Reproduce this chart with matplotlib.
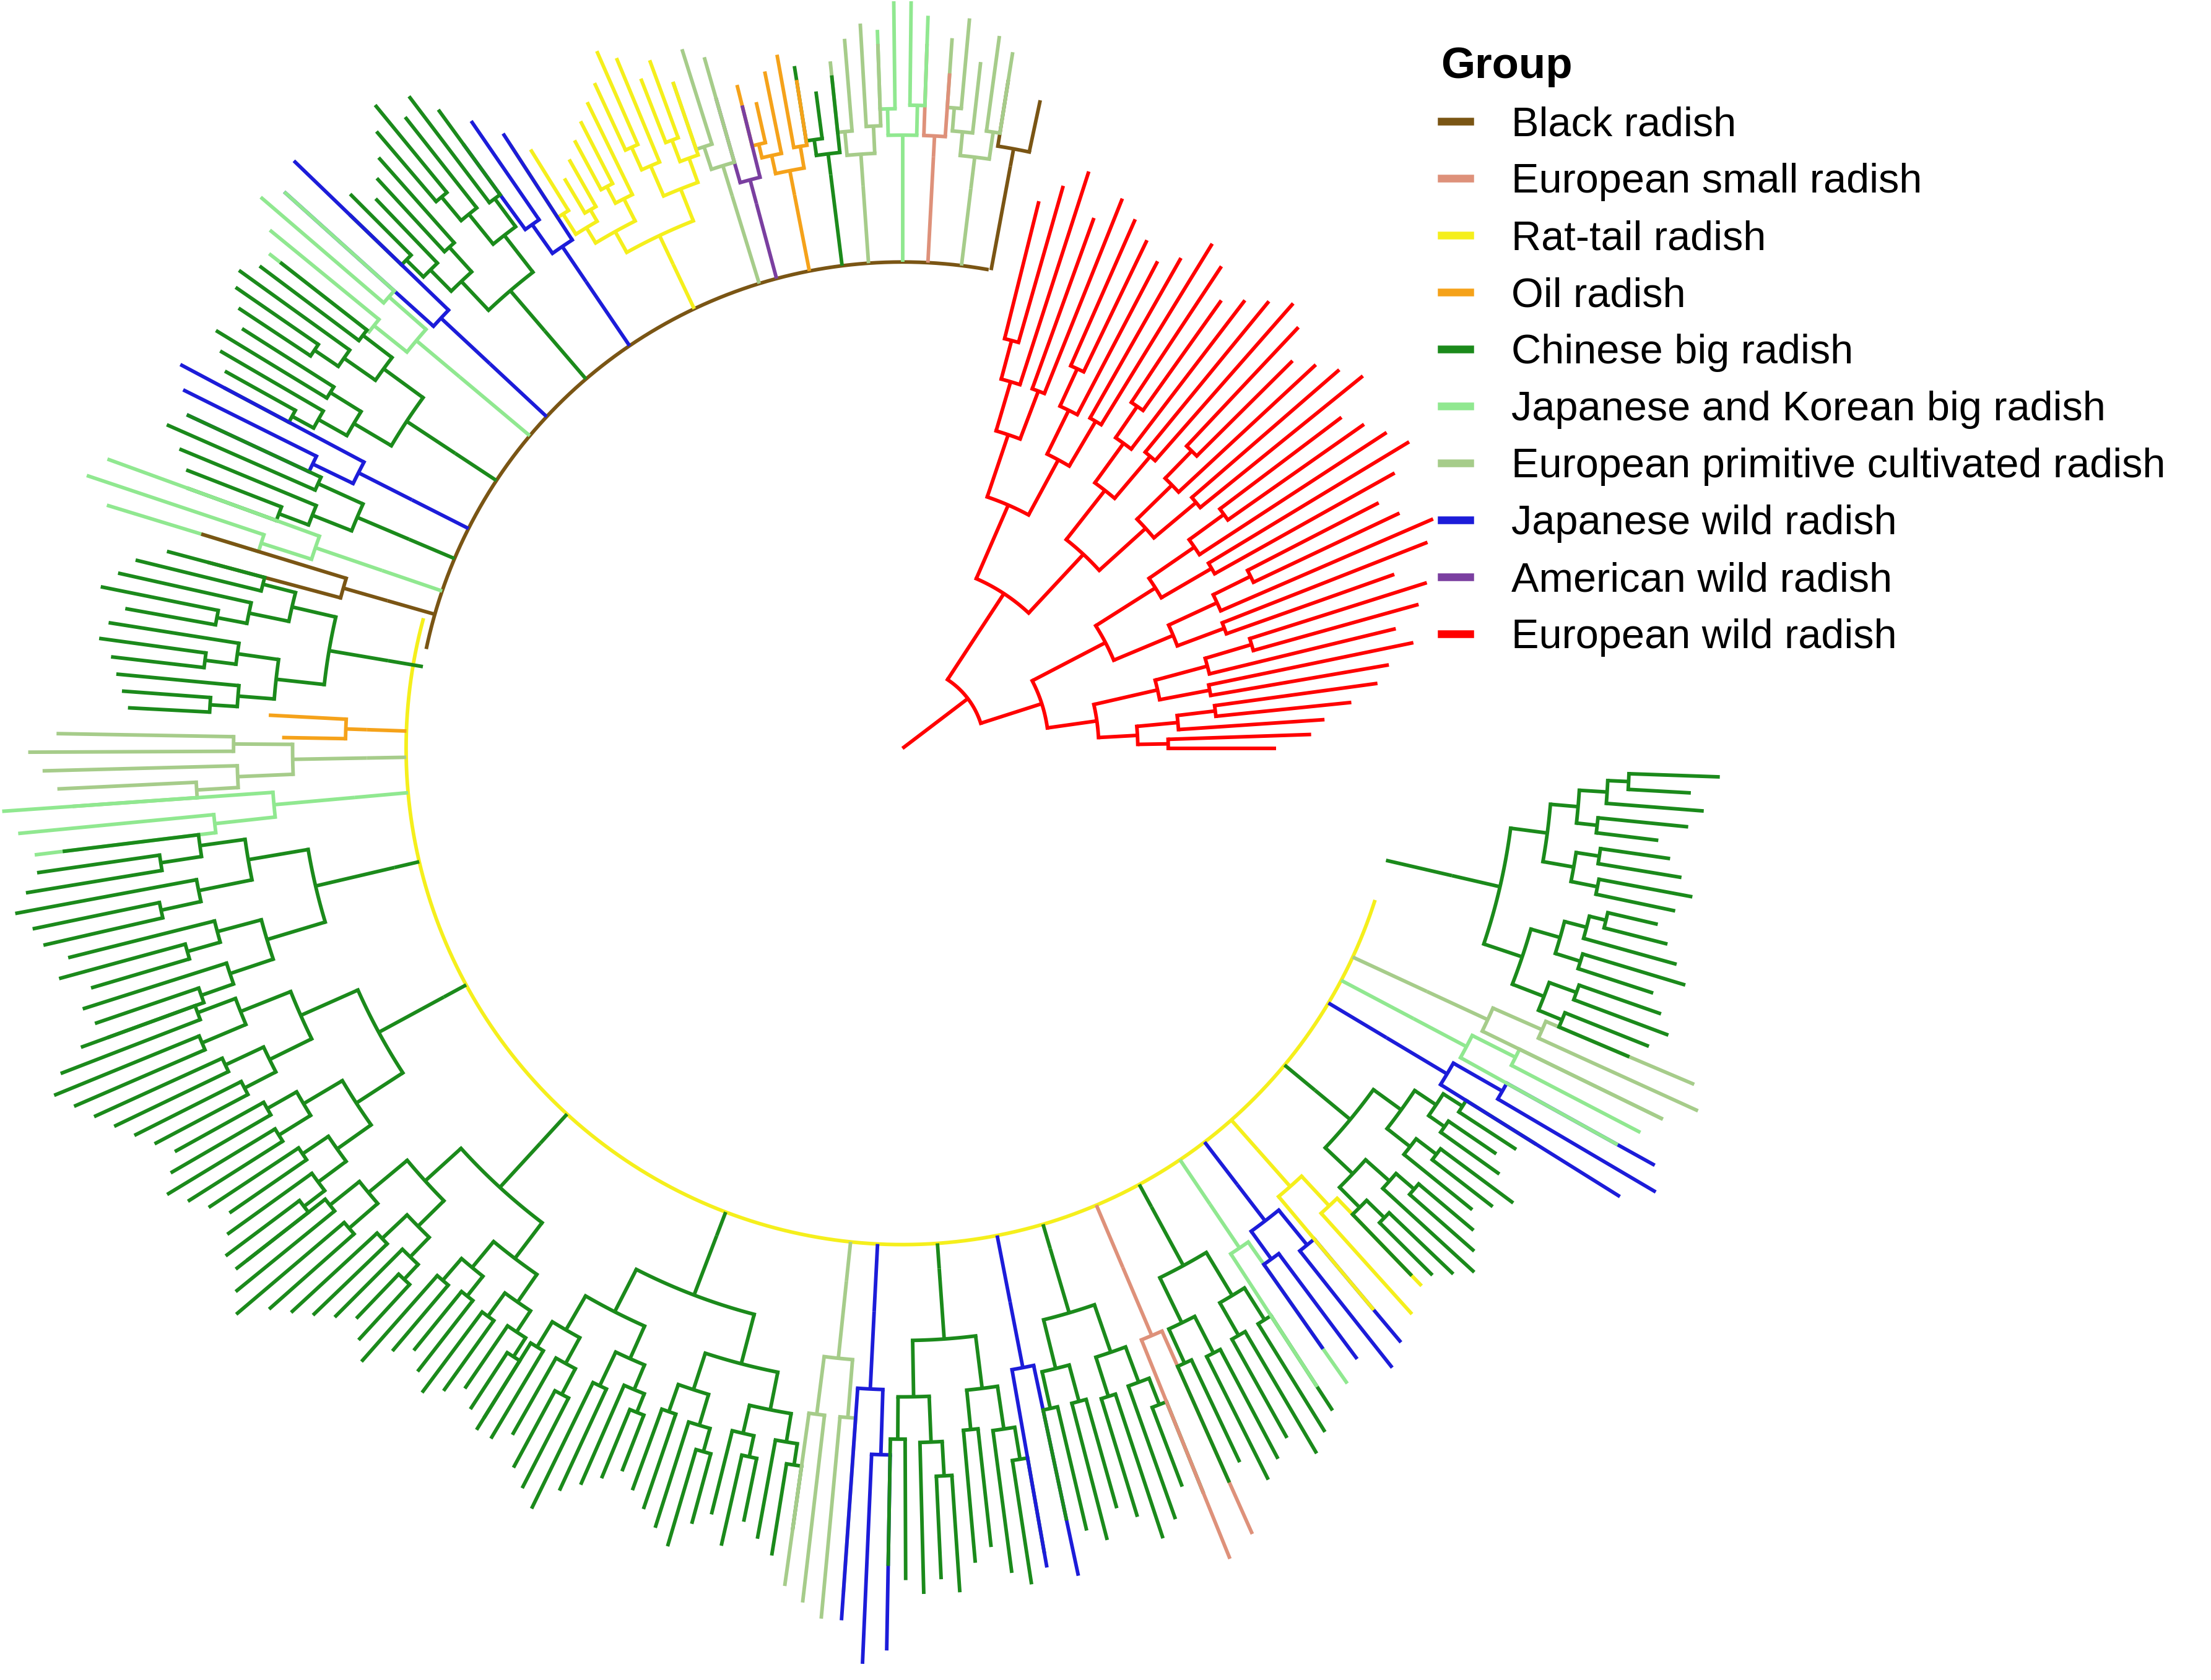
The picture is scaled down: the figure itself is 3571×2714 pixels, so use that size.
import matplotlib
matplotlib.use("Agg")
import matplotlib.pyplot as plt
import numpy as np
from matplotlib.lines import Line2D

plt.rcParams["font.family"] = ["Liberation Sans", "DejaVu Sans"]

GROUPS = ["Black radish", "European small radish", "Rat-tail radish", "Oil radish",
          "Chinese big radish", "Japanese and Korean big radish",
          "European primitive cultivated radish", "Japanese wild radish",
          "American wild radish", "European wild radish"]
COLORS = ["#7a5514", "#de917a", "#f5ef1c", "#f5a21a", "#1b8a1b", "#90e890",
          "#a6cc8a", "#1c1cd9", "#7a3fa0", "#ff0000"]

# (group index, start angle deg, end angle deg, clade root radius, tip radii)
RED_TIPS = [265, 290, 300, 320, 340, 350, 370, 360, 380, 390, 370, 400, 410, 390, 380, 400,
            420, 410, 400, 390, 420, 410, 400, 390, 410, 420, 410, 400, 390, 410, 420, 400,
            390, 400, 410, 420, 400, 430, 415, 400]
CLADES = [
    (0, 78, 81, 420, [470, 480]),
    (6, 81, 86, 400, [500, 510, 490, 520, 505]),
    (1, 86, 88, 420, [480, 500]),
    (5, 88, 92, 410, [520, 540, 530, 510]),
    (6, 92, 96, 400, [500, 515, 505, 490]),
    (4, 96, 99, 410, [480, 470, 490]),
    (3, 99, 104, 400, [480, 500, 490, 470, 485]),
    (8, 104, 106, 400, [470, 480]),
    (6, 106, 109, 410, [510, 520, 500]),
    (2, 109, 123, 380, [500, 520, 510, 530, 540, 520, 510, 500, 490, 480, 470, 500, 510]),
    (7, 123, 126, 400, [520, 540, 530]),
    (4, 126, 136, 390, [560, 580, 570, 590, 575, 560, 550, 540, 555, 545]),
    (7, 136, 138, 400, [600, 590]),
    (5, 138, 142, 410, [590, 600, 580, 570]),
    (4, 142, 152, 380, [560, 570, 580, 575, 565, 555, 570, 560, 550, 545]),
    (7, 152, 155, 390, [580, 570, 560]),
    (4, 155, 160, 380, [560, 570, 555, 545, 540]),
    (5, 160, 163, 390, [600, 610, 590]),
    (0, 163, 165, 380, [520, 510]),
    (4, 165, 177, 370, [540, 560, 570, 580, 560, 570, 575, 565, 560, 555, 550]),
    (3, 177, 179, 380, [450, 440]),
    (6, 179, 184, 380, [600, 620, 610, 600, 590]),
    (5, 184, 187, 390, [640, 630, 620]),
    (4, 187, 200, 370, [600, 620, 630, 640, 630, 625, 610, 620, 600, 610, 605, 600]),
    (4, 200, 218, 370, [620, 640, 650, 640, 630, 620, 610, 600, 590, 600, 610, 600, 590, 580,
                        590, 600, 590]),
    (4, 218, 238, 380, [600, 610, 620, 600, 590, 580, 570, 560, 570, 580, 560, 550, 560, 570,
                        560, 550, 560, 570]),
    (4, 238, 262, 370, [560, 570, 560, 580, 590, 600, 580, 570, 560, 550, 560, 570, 580, 590,
                        570, 560, 580, 560, 570, 580, 560]),
    (6, 262, 266, 380, [600, 610, 620, 600]),
    (7, 266, 269, 400, [620, 650, 640]),
    (4, 269, 280, 370, [580, 590, 600, 590, 600, 580, 570, 590, 600, 580]),
    (7, 280, 282, 400, [590, 600]),
    (4, 282, 292, 370, [560, 570, 580, 560, 570, 590, 580, 560, 570]),
    (1, 292, 294, 400, [620, 610]),
    (4, 294, 303, 370, [570, 560, 580, 570, 560, 580, 570, 560]),
    (5, 303, 305, 390, [540, 550]),
    (7, 305, 310, 390, [520, 540, 560, 550]),
    (2, 310, 314, 380, [520, 540, 530]),
    (4, 314, 328, 380, [520, 530, 540, 550, 540, 530, 520, 530, 540, 520, 510, 520, 530]),
    (7, 328, 331, 400, [600, 620, 610]),
    (5, 331, 334, 410, [580, 590, 600]),
    (6, 334, 337, 410, [600, 620, 610]),
    (4, 337, 358, 400, [560, 570, 580, 570, 560, 580, 570, 560, 550, 560, 570, 560, 550, 540,
                        560, 570, 560, 580]),
]
BACKBONE = [(0, 80, 168, 345), (2, 165, 342, 352)]  # group, start, end, radius

CX, CY = 640, 660
LW = 1.4


def xy(r, a):
    t = np.radians(a)
    return CX + r * np.cos(t), CY + r * np.sin(t)


def radial(ax, a, r1, r2, c):
    x1, y1 = xy(r1, a)
    x2, y2 = xy(r2, a)
    ax.plot([x1, x2], [y1, y2], color=c, lw=LW, solid_capstyle="butt")


def arc(ax, r, a1, a2, c):
    t = np.linspace(a1, a2, max(2, int(abs(a2 - a1) * 3)))
    x, y = xy(r, t)
    ax.plot(x, y, color=c, lw=LW)


def build(ax, angles, tips, lo, hi, r_parent, c, frac):
    if hi - lo == 1:
        radial(ax, angles[lo], r_parent, tips[lo], c)
        return angles[lo]
    r_node = r_parent + (min(tips[lo:hi]) - r_parent) * frac
    mid = (lo + hi) // 2
    a1 = build(ax, angles, tips, lo, mid, r_node, c, frac)
    a2 = build(ax, angles, tips, mid, hi, r_node, c, frac)
    arc(ax, r_node, a1, a2, c)
    a = (a1 + a2) / 2
    radial(ax, a, r_parent, r_node, c)
    return a


fig = plt.figure(figsize=(3571 / 300, 2714 / 300), dpi=300)
ax = fig.add_axes([0, 0, 1, 1])
ax.set_xlim(0, 1568)
ax.set_ylim(0, 1190)
ax.set_aspect("equal")
ax.axis("off")

for g, a1, a2, r in BACKBONE:
    arc(ax, r, a1, a2, COLORS[g])

red_angles = np.linspace(0, 76, len(RED_TIPS))
build(ax, red_angles, RED_TIPS, 0, len(RED_TIPS), 0, COLORS[9], 0.22)

for g, a1, a2, r0, tips in CLADES:
    c = COLORS[g]
    angs = np.linspace(a1, a2, len(tips))
    bb = 345 if a1 < 166 else 352
    a = build(ax, angs, tips, 0, len(tips), r0, c, 0.25)
    radial(ax, a, bb, r0, c)

handles = [Line2D([0], [0], color=c, lw=3) for c in COLORS]
leg = ax.legend(handles, GROUPS, loc="upper left", bbox_to_anchor=(0.635, 0.995),
                frameon=False, fontsize=16, handlelength=0.7, handletextpad=1.0,
                labelspacing=0.45, title="Group",
                title_fontproperties={"weight": "bold", "size": 17})
leg._legend_box.align = "left"

fig.savefig("out.png", dpi=300)
